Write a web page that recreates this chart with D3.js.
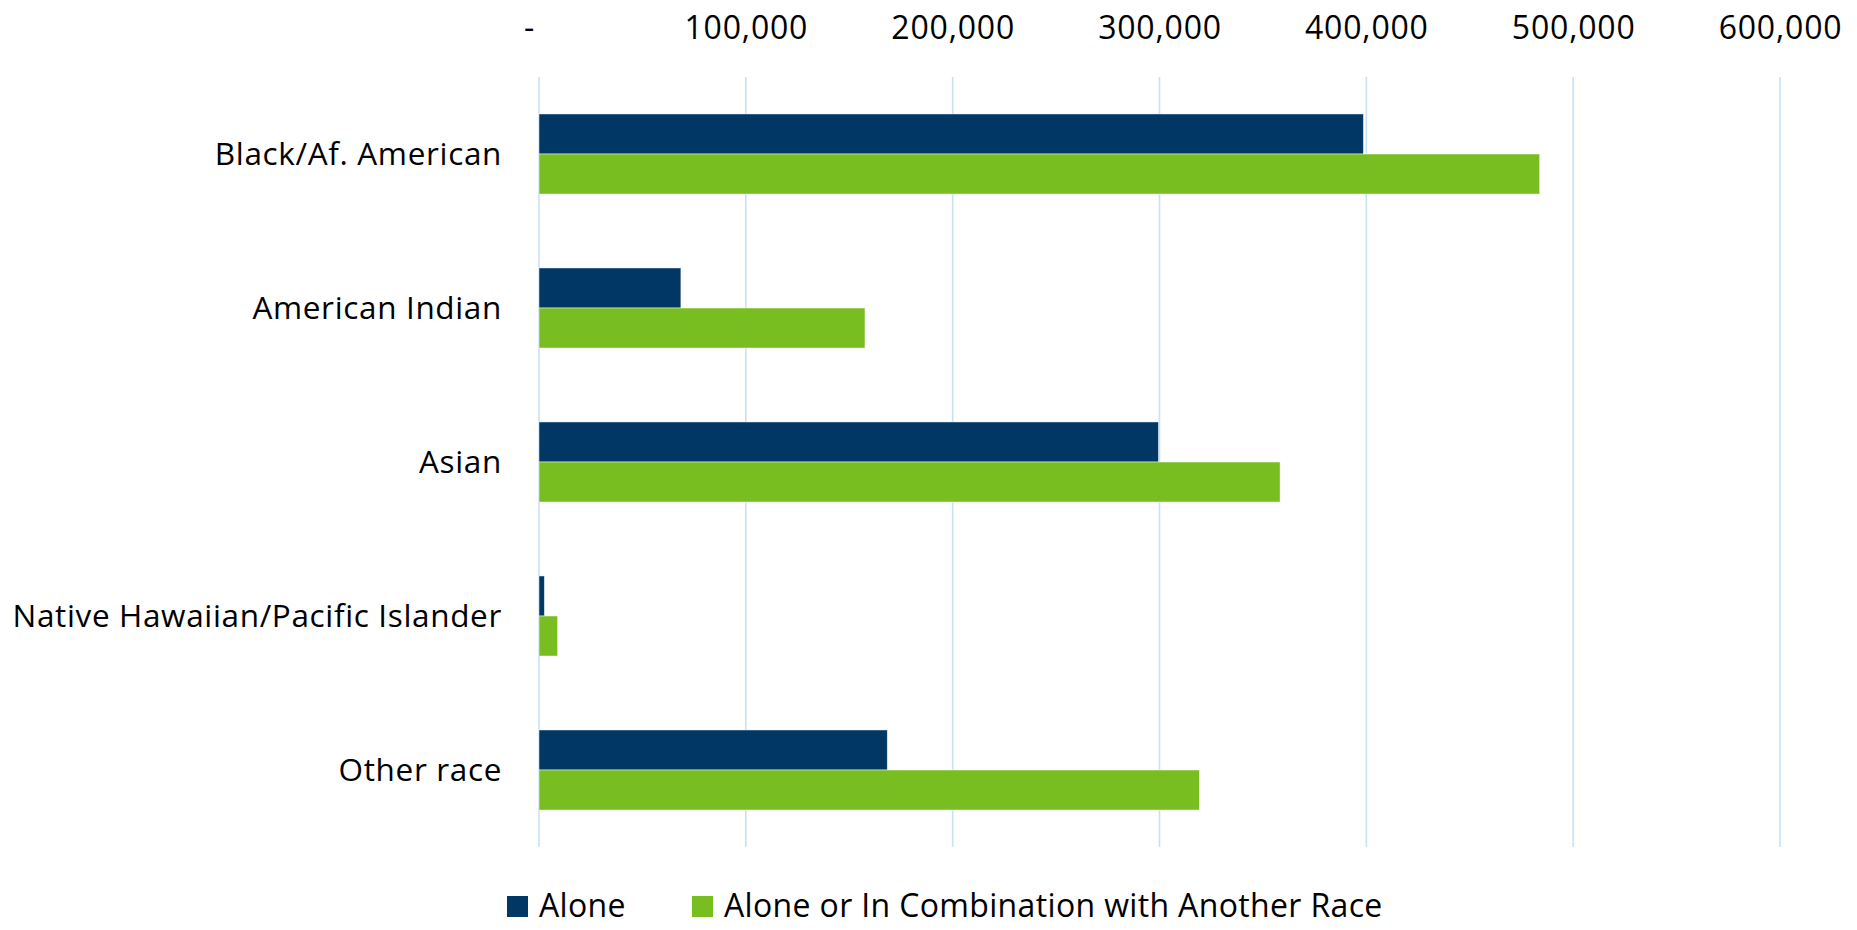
<!DOCTYPE html>
<html>
<head>
<meta charset="utf-8">
<script src="https://cdn.jsdelivr.net/npm/d3@7/dist/d3.min.js"></script>
<style>
  html, body { margin: 0; padding: 0; background: #ffffff; }
  svg { display: block; }
  text { font-family: "Open Sans", "Noto Sans", sans-serif; fill: #000; }
</style>
</head>
<body>
<svg id="chart" width="1857" height="930"></svg>
<script>
const categories = ["Black/Af. American", "American Indian", "Asian", "Native Hawaiian/Pacific Islander", "Other race"];
const seriesNames = ["Alone", "Alone or In Combination with Another Race"];
const aloneValues = [398600, 68600, 299500, 2600, 168400];
const comboValues = [483800, 157600, 358300, 9000, 319300];
const tickValues = [0, 100000, 200000, 300000, 400000, 500000, 600000];
const colors = ["#003764", "#78BE21"];

const svg = d3.select("#chart");
const margin = { left: 539, right: 77, top: 77, bottom: 83 };
const W = 1857, H = 930;

const x = d3.scaleLinear().domain([0, 600000]).range([margin.left, W - margin.right]);
const y = d3.scaleBand().domain(categories).range([margin.top, H - margin.bottom]).paddingInner(0.48).paddingOuter(0.24);
const ySub = d3.scaleBand().domain(seriesNames).range([0, y.bandwidth()]);

// gridlines
svg.append("g")
  .selectAll("line")
  .data(tickValues)
  .join("line")
  .attr("x1", d => x(d)).attr("x2", d => x(d))
  .attr("y1", margin.top).attr("y2", H - margin.bottom)
  .attr("stroke", "#C6E2F7")
  .attr("stroke-width", 1.6);

// top axis
const fmt = d3.format(",");
const xAxis = d3.axisTop(x).tickValues(tickValues).tickSize(0).tickPadding(0)
  .tickFormat(d => d === 0 ? "-" : fmt(d));
const ax = svg.append("g").attr("transform", "translate(0,39)").call(xAxis);
ax.select(".domain").remove();
ax.selectAll("text")
  .attr("font-size", 32)
  .attr("letter-spacing", 0.8)
  .attr("font-family", "'Open Sans', 'Noto Sans', sans-serif")
  .attr("fill", "#000")
  .attr("dy", 0)
  .attr("dx", d => d === 0 ? -10 : 0);

// y axis labels
const yAxis = d3.axisLeft(y).tickSize(0).tickPadding(37);
const ay = svg.append("g").attr("transform", `translate(${margin.left},0)`).call(yAxis);
ay.select(".domain").remove();
ay.selectAll("text")
  .attr("font-size", 31.5)
  .attr("letter-spacing", 0.65)
  .attr("font-family", "'Open Sans', 'Noto Sans', sans-serif")
  .attr("fill", "#000")
  .attr("dy", "0.36em");

// bars
const rows = categories.map((c, i) => ({ cat: c, vals: [aloneValues[i], comboValues[i]] }));
const groups = svg.append("g").selectAll("g")
  .data(rows).join("g")
  .attr("transform", d => `translate(0,${y(d.cat)})`);
groups.selectAll("rect")
  .data(d => d.vals.map((v, j) => ({ v, s: seriesNames[j], j })))
  .join("rect")
  .attr("x", x(0))
  .attr("y", d => ySub(d.s))
  .attr("width", d => x(d.v) - x(0))
  .attr("height", ySub.bandwidth())
  .attr("fill", d => colors[d.j])
  .attr("stroke", "#ffffff")
  .attr("stroke-opacity", 0.6)
  .attr("stroke-width", 0.8);

// legend
const legendItems = [
  { name: seriesNames[0], color: colors[0], x: 507 },
  { name: seriesNames[1], color: colors[1], x: 692 }
];
const lg = svg.append("g");
legendItems.forEach(it => {
  lg.append("rect").attr("x", it.x).attr("y", 896).attr("width", 21).attr("height", 21).attr("fill", it.color);
  lg.append("text").attr("x", it.x + 32).attr("y", 917).attr("font-size", 32).attr("letter-spacing", 0.35).text(it.name);
});
</script>
</body>
</html>
